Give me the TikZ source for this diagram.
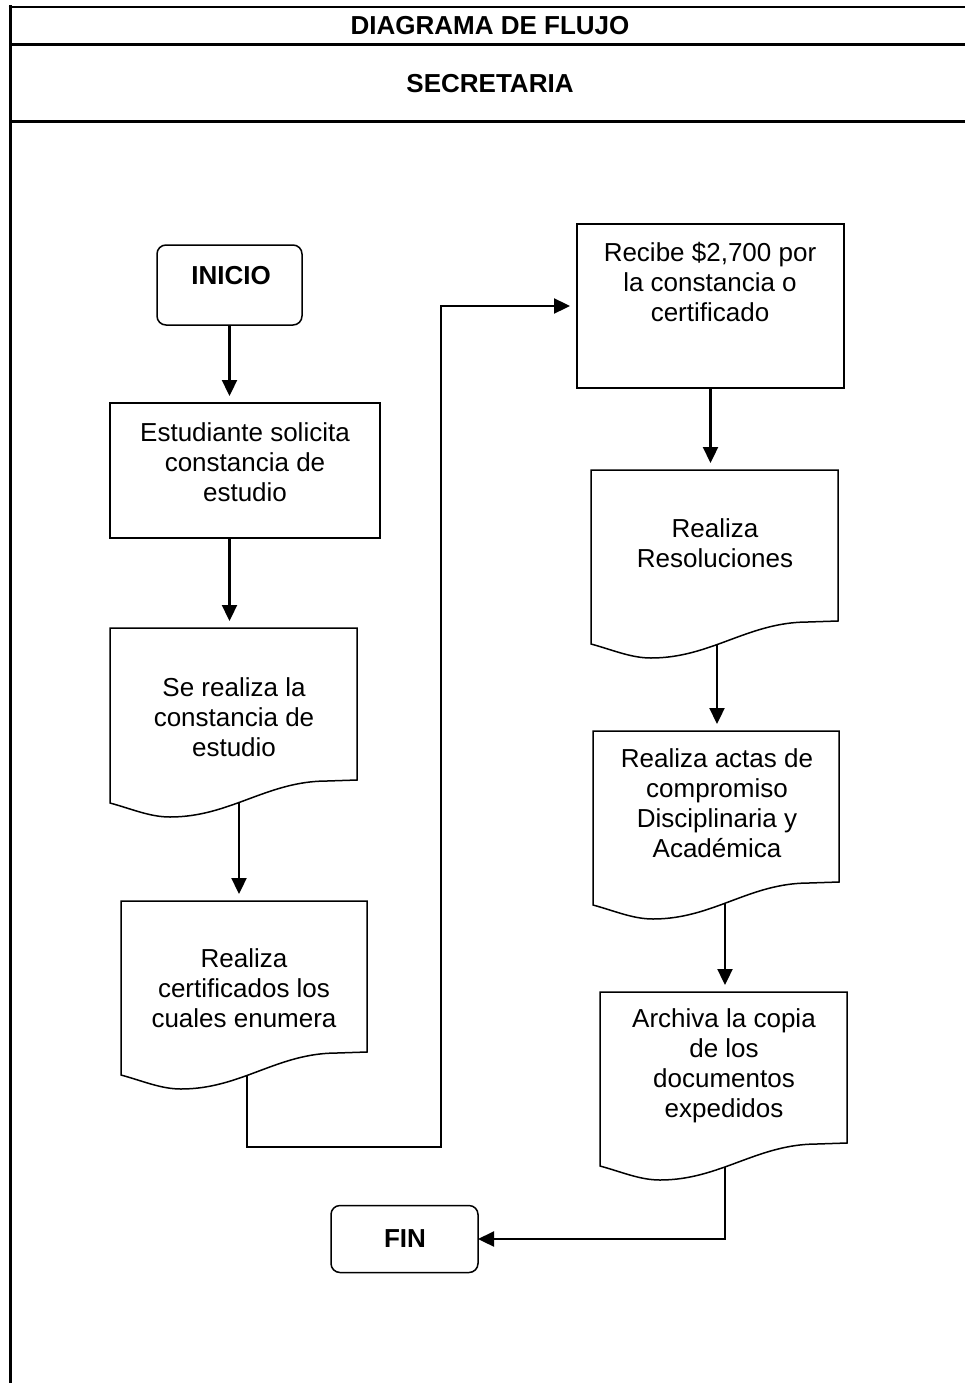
\documentclass[tikz,border=0pt]{standalone}
\usepackage{fontspec}
\setmainfont{Liberation Sans}
\usetikzlibrary{arrows.meta,calc,intersections}

\tikzset{
  frameline/.style={line width=2.6pt},
  procbox/.style={draw, line width=1.5pt, rectangle, inner sep=0pt, outer sep=0pt},
  termbox/.style={draw, line width=1.5pt, rectangle, rounded corners=9pt, inner sep=0pt, outer sep=0pt},
  docarea/.style={rectangle, inner sep=0pt, outer sep=0pt},
  txt/.style={align=center, font=\fontsize{26}{30}\selectfont, inner sep=0pt},
  boldtxt/.style={align=center, font=\fontsize{26}{30}\selectfont\bfseries, inner sep=0pt},
  flow/.style={line width=2.3pt, -{Triangle[length=16pt,width=15pt]}},
  gap/.style={shorten >=7pt},
}

% document symbol: straight top and sides, wavy bottom edge;
% #1 = node giving the straight part, #2 = x offset of the outgoing line
\newcommand\docshape[2]{%
  \draw[line width=1.5pt, name path=#1-edge]
    (#1.north west) -- (#1.north east) -- (#1.south east) -- ++(-30,1)
    .. controls +(-60,0) and +(60,0) .. ($(#1.south west)+(60,37)$)
    .. controls +(-20,0) and +(22,6) .. ($(#1.south west)+(0,23)$) -- cycle;
  \path[name path=#1-drop] ($(#1.south west)+(#2,2)$) -- ++(0,60);
  \path[name intersections={of=#1-edge and #1-drop, by=#1-out}];
}

\begin{document}
\begin{tikzpicture}[x=1pt,y=-1pt]
\useasboundingbox (0,0) rectangle (965,1383);

% page frame and header rows
\draw[line width=3pt] (10,5.5) -- (10,1383);
\draw[frameline] (8.5,7) -- (965,7);
\draw[frameline] (10,44.5) -- (965,44.5);
\draw[frameline] (10,121.5) -- (965,121.5);
\node[boldtxt] (title) at (490,26) {DIAGRAMA DE FLUJO};
\node[boldtxt] (area) at (490,84) {SECRETARIA};

% left column
\node[termbox, minimum width=145pt, minimum height=80pt] (inicio) at (229.5,285) {};
\node[boldtxt] (inicio-t) at (231,276) {INICIO};

\node[procbox, minimum width=270pt, minimum height=135pt] (est) at (245,470.5) {};
\node[txt] (est-t) at (245,462) {Estudiante solicita\\constancia de\\estudio};

\node[docarea, minimum width=247pt, minimum height=152pt] (d1) at (233.5,704) {};
\docshape{d1}{129}
\node[txt] (d1-t) at (234,717) {Se realiza la\\constancia de\\estudio};

\node[docarea, minimum width=246pt, minimum height=151pt] (d2) at (244,976.5) {};
\docshape{d2}{126}
\node[txt] (d2-t) at (244,988) {Realiza\\certificados los\\cuales enumera};

% right column
\node[procbox, minimum width=267pt, minimum height=164pt] (recibe) at (710.5,306) {};
\node[txt] (recibe-t) at (710,282) {Recibe \$2,700 por\\la constancia o\\certificado};

\node[docarea, minimum width=247pt, minimum height=151pt] (d3) at (714.5,545.5) {};
\docshape{d3}{126}
\node[txt] (d3-t) at (715,543) {Realiza\\Resoluciones};

\node[docarea, minimum width=246pt, minimum height=151pt] (d4) at (716,806.5) {};
\docshape{d4}{132}
\node[txt] (d4-t) at (717,803) {Realiza actas de\\compromiso\\Disciplinaria y\\Académica};

\node[docarea, minimum width=247pt, minimum height=151pt] (d5) at (723.5,1067.5) {};
\docshape{d5}{125}
\node[txt] (d5-t) at (724,1066) {Archiva la copia\\de los\\documentos\\expedidos};

\node[termbox, minimum width=147pt, minimum height=67pt] (fin) at (404.5,1239) {};
\node[boldtxt] (fin-t) at (405,1239) {FIN};

% connectors
\coordinate (bend) at (441,1147);
\draw[flow, gap] (inicio.south) -- (inicio.south |- est.north);
\draw[flow, gap] (est.south -| inicio.south) -- (inicio.south |- d1.north);
\draw[flow, gap] (d1-out) -- (d1-out |- d2.north);
\draw[flow, gap] (d2-out) |- (bend) |- (recibe.west);
\draw[flow, gap] (recibe.south) -- (recibe.south |- d3.north);
\draw[flow, gap] (d3-out) -- (d3-out |- d4.north);
\draw[flow, gap] (d4-out) -- (d4-out |- d5.north);
\draw[flow] (d5-out) |- (fin.east);
\end{tikzpicture}
\end{document}
